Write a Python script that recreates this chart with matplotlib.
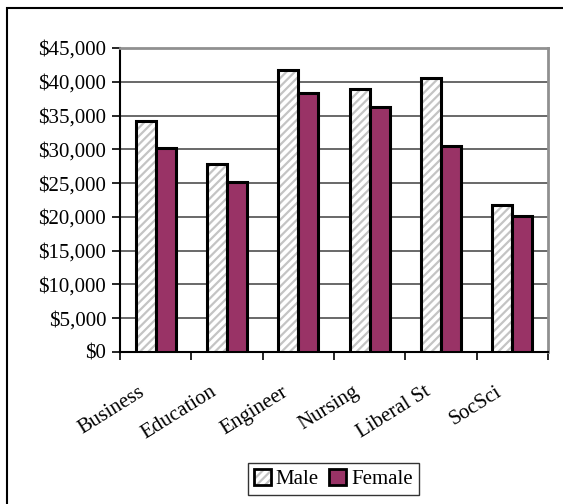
import matplotlib.pyplot as plt
from matplotlib.patches import Rectangle, Patch
from matplotlib.ticker import FuncFormatter
from numpy import arange

# Data
majors = ['Business', 'Education', 'Engineer', 'Nursing', 'Liberal St', 'SocSci']
male = [34200, 27900, 41700, 39000, 40500, 21700]
female = [30200, 25200, 38300, 36300, 30500, 20100]

plt.rcParams['font.family'] = ['Liberation Serif', 'DejaVu Serif']
plt.rcParams['hatch.linewidth'] = 1.6

fig = plt.figure(figsize=(5.63, 5.04), dpi=100)
ax = fig.add_axes([120 / 563, 1 - 352 / 504, 428 / 563, 304 / 504])

x = arange(len(majors))
w = 0.28
female_col = '#993366'
hatch_col = '#c4c4c4'

# hatched male bars: gray hatch first, black outline on top
ax.bar(x - w / 2, male, width=w, color='white', edgecolor=hatch_col,
       hatch='////', linewidth=0, zorder=3)
ax.bar(x - w / 2, male, width=w, fill=False, edgecolor='black',
       linewidth=2.2, zorder=4)
ax.bar(x + w / 2, female, width=w, color=female_col, edgecolor='black',
       linewidth=2.2, zorder=4)

ax.set_xlim(-0.5, len(majors) - 0.5)
ax.set_ylim(0, 45000)
ax.set_yticks(arange(0, 45001, 5000))
ax.yaxis.set_major_formatter(FuncFormatter(lambda v, p: '${:,.0f}'.format(v)))
ax.yaxis.grid(True, color='#404040', linewidth=1.1, zorder=0)

# category labels, slanted, sitting a bit left of each group centre
ax.set_xticks(x)
ax.set_xticklabels([])
for i, name in enumerate(majors):
    ax.text(i - 0.1, -0.1, name, transform=ax.get_xaxis_transform(),
            rotation=32, ha='right', va='top', fontsize=15)
ax.set_xticks(arange(-0.5, len(majors)), minor=True)
ax.tick_params(axis='x', which='major', length=0)
ax.tick_params(axis='x', which='minor', length=6, width=1.2, direction='out')
ax.tick_params(axis='y', length=6, width=1.2, direction='out', labelsize=15, pad=4)

ax.spines['left'].set_linewidth(1.5)
ax.spines['bottom'].set_linewidth(1.5)
ax.spines['top'].set_color('#909090')
ax.spines['right'].set_color('#909090')
ax.spines['top'].set_linewidth(2)
ax.spines['right'].set_linewidth(2)

male_handle = (Patch(facecolor='white', edgecolor=hatch_col, hatch='////', linewidth=0),
               Patch(fill=False, edgecolor='black', linewidth=2))
female_handle = Patch(facecolor=female_col, edgecolor='black', linewidth=2)
leg = fig.legend([male_handle, female_handle], ['Male', 'Female'],
                 loc='lower center', bbox_to_anchor=(0.592, 0.005),
                 ncol=2, fontsize=15, frameon=True, fancybox=False,
                 handlelength=0.8, handleheight=0.8, handletextpad=0.25,
                 columnspacing=0.5, borderpad=0.3, borderaxespad=0.3)
leg.get_frame().set_edgecolor('black')
leg.get_frame().set_linewidth(1)

# outer chart border (top and left visible)
fig.patches.append(Rectangle((7 / 563, -0.1), 1.2, 1 - 8 / 504 + 0.1,
                             transform=fig.transFigure, fill=False,
                             edgecolor='black', linewidth=1.5))

fig.savefig('out.png', dpi=100)
